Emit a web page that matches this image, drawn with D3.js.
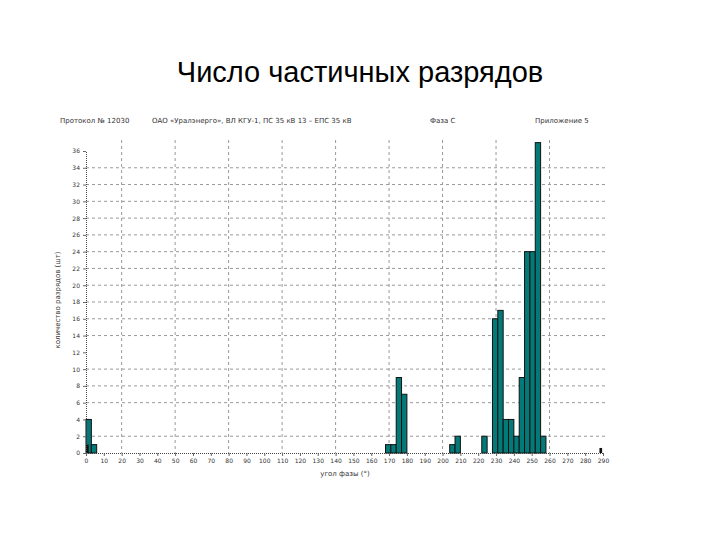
<!DOCTYPE html>
<html><head><meta charset="utf-8">
<script src="https://cdn.jsdelivr.net/npm/d3@7"></script>
<style>body{margin:0;background:#fff}</style></head>
<body><svg id="c" width="720" height="540"></svg>
<script>
const binStart = [0, 3, 168, 171, 174, 177, 204, 207, 222, 228, 231, 234, 237, 240, 243, 246, 249, 252, 255];
const binCount = [4, 1, 1, 1, 9, 7, 1, 2, 2, 16, 17, 4, 4, 2, 9, 24, 24, 37, 2];
const darkStart = [0, 288];
const darkCount = [1, 0.6];
const binWidth = 3;
const yTicks = d3.range(0, 37, 2);
const xTicks = d3.range(0, 291, 10);
const gridX = [20, 50, 80, 110, 140, 170, 200, 230, 260];
const gridY = [2, 6, 8, 10, 14, 16, 18, 20, 22, 24, 26, 28, 30, 32, 34];

const svg = d3.select("#c");
const x = d3.scaleLinear().domain([0, 290]).range([86, 603]);
const y = d3.scaleLinear().domain([0, 36]).range([453, 151]);

svg.append("text").attr("x", 360).attr("y", 82).attr("text-anchor", "middle")
  .attr("font-family", "Liberation Sans, Arial").attr("font-size", 29).text("Число частичных разрядов");

const hdr = [[60, "Протокол № 12030"], [152, "ОАО «Уралэнерго», ВЛ КГУ-1, ПС 35 кВ 13 – ЕПС 35 кВ"], [430, "Фаза С"], [535, "Приложение 5"]];
svg.selectAll(".h").data(hdr).enter().append("text").attr("x", d => d[0]).attr("y", 123)
  .attr("font-family", "DejaVu Sans").attr("font-size", 7).attr("fill", "#333").text(d => d[1]);

const g = svg.append("g");
g.selectAll(".gx").data(gridX).enter().append("line")
  .attr("x1", d => x(d)).attr("x2", d => x(d)).attr("y1", 140).attr("y2", 453)
  .attr("stroke", "#999").attr("stroke-dasharray", "3,3");
g.selectAll(".gy").data(gridY).enter().append("line")
  .attr("x1", 86).attr("x2", 605).attr("y1", d => y(d)).attr("y2", d => y(d))
  .attr("stroke", "#999").attr("stroke-dasharray", "3,3");

g.selectAll(".b").data(binStart).enter().append("rect")
  .attr("x", d => x(d)).attr("width", x(binWidth) - x(0))
  .attr("y", (d, i) => y(binCount[i])).attr("height", (d, i) => y(0) - y(binCount[i]))
  .attr("fill", "#047a78").attr("stroke", "#111").attr("stroke-width", 1);
g.selectAll(".d").data(darkStart).enter().append("rect")
  .attr("x", d => x(d)).attr("width", x(1.5) - x(0))
  .attr("y", (d, i) => y(darkCount[i])).attr("height", (d, i) => y(0) - y(darkCount[i]))
  .attr("fill", "#111");

const xa = svg.append("g").attr("transform", "translate(0,453)")
  .call(d3.axisBottom(x).tickValues(xTicks).tickSize(3).tickFormat(d3.format("d")));
const ya = svg.append("g").attr("transform", "translate(86,0)")
  .call(d3.axisLeft(y).tickValues(yTicks).tickSize(3).tickFormat(d3.format("d")));
[xa, ya].forEach(a => {
  a.select(".domain").attr("stroke", "#444").attr("stroke-dasharray", "1,1");
  a.selectAll("text").attr("font-size", 6).attr("fill", "#333").attr("font-family", "DejaVu Sans");
  a.selectAll("line").attr("stroke", "#666");
});
svg.append("text").attr("x", 345).attr("y", 476).attr("text-anchor", "middle")
  .attr("font-family", "DejaVu Sans").attr("font-size", 7).attr("fill", "#333").text("угол фазы (°)");
svg.append("text").attr("transform", "translate(60,300) rotate(-90)").attr("text-anchor", "middle")
  .attr("font-family", "DejaVu Sans").attr("font-size", 7).attr("fill", "#333").text("количество разрядов (шт)");
</script></body></html>
